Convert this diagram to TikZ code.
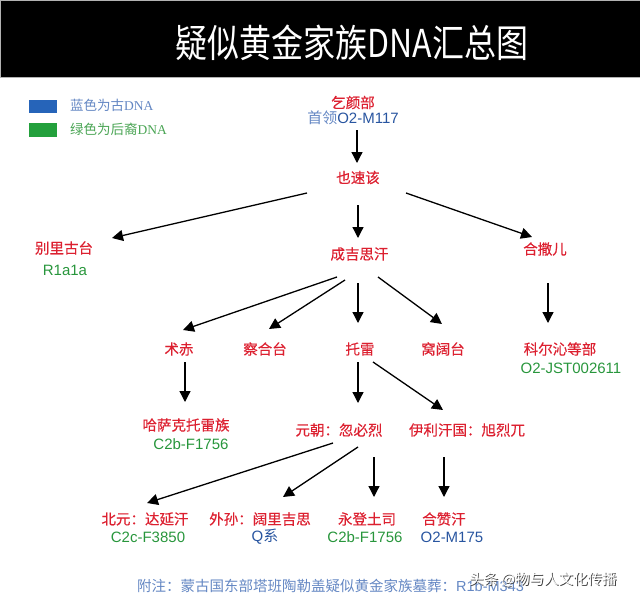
\documentclass[tikz,border=0pt]{standalone}
\usepackage{fontspec}
\setmainfont{Noto Sans CJK SC}
\newfontfamily\cjkcu[FakeBold=0.35]{Noto Sans CJK SC}
\newfontfamily\arialzt{Liberation Sans}
\newfontfamily\serifzt{Liberation Serif}
\usetikzlibrary{arrows.meta,calc}

\definecolor{hong}{RGB}{220,32,48}
\definecolor{lan}{RGB}{40,85,160}
\definecolor{qianlan}{RGB}{100,135,195}
\definecolor{lv}{RGB}{40,150,60}
\definecolor{qianlv}{RGB}{75,165,85}
\definecolor{kuailan}{RGB}{38,100,185}
\definecolor{kuailv}{RGB}{35,160,60}

\begin{document}
\begin{tikzpicture}[x=1pt,y=-1pt,
    ming/.style={text=hong,font=\fontsize{14.5}{16}\selectfont\cjkcu,inner sep=1pt},
    ma/.style={font=\fontsize{15}{16}\selectfont\arialzt,inner sep=1pt},
    jt/.style={-{Triangle[length=11pt,width=11pt]},line width=1.3pt}]
    \useasboundingbox (0,0) rectangle (640,602);

    % 标题
    \fill[black] (0,1) rectangle (640,78);
    \draw[gray!60,line width=1pt] (0,1) rectangle (640,78);
    \node[text=white,font=\fontsize{32}{36}\selectfont] (bt) at (352,43) {\scalebox{1}[1.2]{疑似黄金家族DNA汇总图}};

    % 图例
    \fill[kuailan] (29,100) rectangle (57,113);
    \fill[kuailv] (29,123) rectangle (57,137);
    \node[anchor=west,text=qianlan,font=\fontsize{13.5}{15}\selectfont,inner sep=0pt] (tl1) at (70,105) {蓝色为古{\serifzt DNA}};
    \node[anchor=west,text=qianlv,font=\fontsize{13.5}{15}\selectfont,inner sep=0pt] (tl2) at (70,129) {绿色为后裔{\serifzt DNA}};

    % 人物
    \node[ming] (qyb) at (353,102.5) {乞颜部};
    \node[ma,text=lan] (sl) at (353,118) {{\rmfamily\color{qianlan}首领}O2-M117};
    \node[ming] (ysg) at (358,177.5) {也速该};
    \node[ming] (blgt) at (64,248) {别里古台};
    \node[ma,text=lv] (blgtm) at (65,270) {R1a1a};
    \node[ming] (cjsh) at (359.5,254) {成吉思汗};
    \node[ming] (hse) at (545,249) {合撒儿};
    \node[ming] (kez) at (560,349) {科尔沁等部};
    \node[ma,text=lv] (kezm) at (571,368) {O2-JST002611};
    \node[ming] (zc) at (179,349) {术赤};
    \node[ming] (cht) at (265,349) {察合台};
    \node[ming] (tl) at (360,349) {托雷};
    \node[ming] (wkt) at (443,349) {窝阔台};
    \node[ming] (hskt) at (186,425) {哈萨克托雷族};
    \node[ma,text=lv] (hsktm) at (191,444) {C2b-F1756};
    \node[ming] (ycb) at (339,430) {元朝：忽必烈};
    \node[ming] (ylhg) at (467,430) {伊利汗国：旭烈兀};
    \node[ming] (by) at (145,519) {北元：达延汗};
    \node[ma,text=lv] (bym) at (148,537) {C2c-F3850};
    \node[ming] (ws) at (260,519) {外孙：阔里吉思};
    \node[ma,text=lan] (wsm) at (265,537) {Q{\rmfamily 系}};
    \node[ming] (ydts) at (367,519) {永登土司};
    \node[ma,text=lv] (ydtsm) at (365,537) {C2b-F1756};
    \node[ming] (hzh) at (444,519) {合赞汗};
    \node[ma,text=lan] (hzhm) at (452,537) {O2-M175};

    % 箭头
    \draw[jt] ($(sl)+(4,12)$) -- ($(ysg)+(-1,-14.5)$);
    \draw[jt] ($(ysg)+(-51,15.5)$) -- ($(blgt)+(48,-10)$);
    \draw[jt] ($(ysg)+(0,27.5)$) -- ($(cjsh)+(-1.5,-16)$);
    \draw[jt] ($(ysg)+(48,15.5)$) -- ($(hse)+(-13,-12)$);
    \draw[jt] ($(hse)+(3,34)$) -- ($(kez)+(-12,-26)$);
    \draw[jt] ($(cjsh)+(-22.5,23)$) -- ($(zc)+(4,-19)$);
    \draw[jt] ($(cjsh)+(-14.5,26)$) -- ($(cht)+(4,-20)$);
    \draw[jt] ($(cjsh)+(-1.5,29)$) -- ($(tl)+(-2,-26)$);
    \draw[jt] ($(cjsh)+(18.5,23)$) -- ($(wkt)+(-1,-25)$);
    \draw[jt] ($(zc)+(6,13)$) -- ($(hskt)+(-1,-23)$);
    \draw[jt] ($(tl)+(-2,13)$) -- ($(ycb)+(19,-27)$);
    \draw[jt] ($(tl)+(13,13)$) -- ($(ylhg)+(-24,-20)$);
    \draw[jt] ($(ycb)+(-6,13)$) -- ($(by)+(2,-16)$);
    \draw[jt] ($(ycb)+(19,17)$) -- ($(ws)+(23,-22)$);
    \draw[jt] ($(ycb)+(35,27)$) -- ($(ydts)+(7,-22)$);
    \draw[jt] ($(ylhg)+(-23,27)$) -- ($(hzh)+(0,-22)$);

    % 附注
    \node[anchor=west,text=qianlan,font=\fontsize{14.5}{16}\selectfont,inner sep=0pt] (fz) at (137,586) {附注：蒙古国东部塔班陶勒盖疑似黄金家族墓葬：{\arialzt R1b-M343}};
    \node[text=black!75,font=\fontsize{14.5}{16}\selectfont,inner sep=0pt] (syy) at (543.8,580.8) {头条 @物与人文化传播};
    \node[text=white,font=\fontsize{14.5}{16}\selectfont,inner sep=0pt] (sy) at (543,580) {头条 @物与人文化传播};
\end{tikzpicture}
\end{document}
